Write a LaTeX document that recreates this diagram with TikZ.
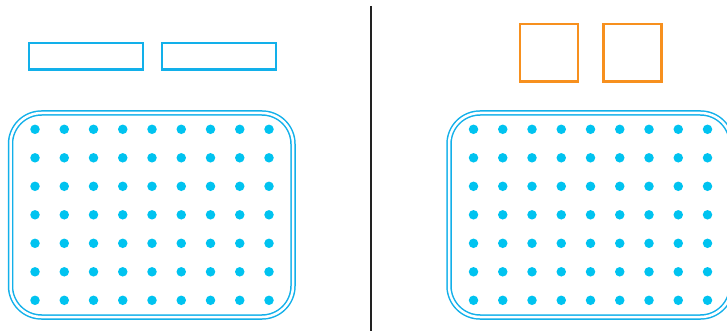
\documentclass[tikz,border=0pt]{standalone}
\definecolor{lineblue}{HTML}{12B0EA}
\definecolor{dotblue}{HTML}{00C3F0}
\definecolor{keyorange}{HTML}{F7901E}
\definecolor{divider}{HTML}{222222}
\tikzset{
  keyrect/.style={draw=lineblue, line width=2.2pt, rectangle, inner sep=0pt, outer sep=0pt, anchor=north west},
  keysq/.style={draw=keyorange, line width=2.2pt, rectangle, inner sep=0pt, outer sep=0pt, anchor=north west},
  panel/.style={draw=lineblue, double=white, line width=1.5pt, double distance=2.5pt, rounded corners=31pt},
  bead/.style={circle, fill=dotblue, inner sep=0pt, minimum size=9.5pt},
}
\begin{document}
\begin{tikzpicture}[x=1pt,y=-1pt]
\useasboundingbox (0,0) rectangle (727,331);
% left keys
\node[keyrect, minimum width=114pt, minimum height=26.5pt] (k1) at (29,43) {};
\node[keyrect, minimum width=114pt, minimum height=26.5pt] (k2) at (161.8,43) {};
% right squares
\node[keysq, minimum width=58pt, minimum height=57.5pt] (s1) at (520,24) {};
\node[keysq, minimum width=58pt, minimum height=57.5pt] (s2) at (603.5,24) {};
% divider
\coordinate (dtop) at (371,6);
\coordinate (dbot) at (371,331);
\draw[divider, line width=2pt] (dtop) -- (dbot);
% panels
\draw[panel] (10.5,113) rectangle (293,317);
\draw[panel] (449,113) rectangle (731.5,317);
% dots
\foreach \c in {0,...,8}{
  \foreach \r in {0,...,6}{
    \node[bead] (l\c\r) at ({35+29.25*\c},{129.3+28.5*\r}) {};
    \node[bead] (r\c\r) at ({473.5+29.25*\c},{129.3+28.5*\r}) {};
  }
}
\end{tikzpicture}
\end{document}
